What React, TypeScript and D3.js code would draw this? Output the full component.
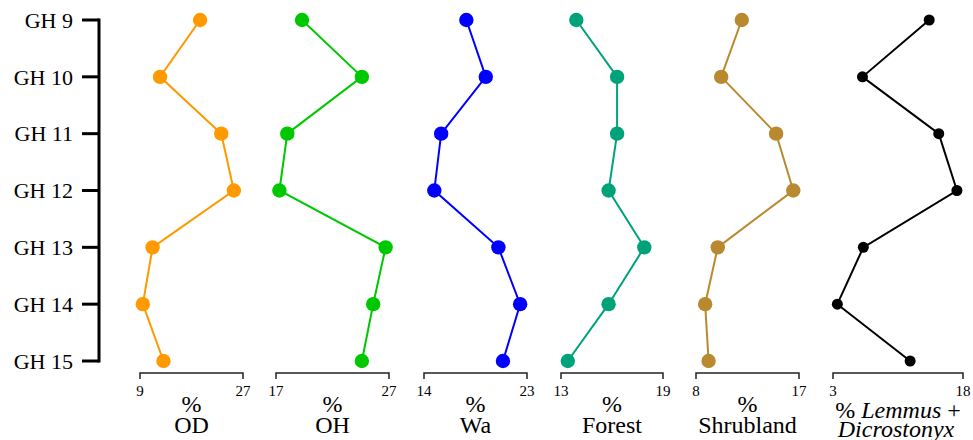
import React from "react";
import * as d3 from "d3";

const samples = ["GH 9", "GH 10", "GH 11", "GH 12", "GH 13", "GH 14", "GH 15"];

const odValues = [19.5, 12.5, 23.2, 25.4, 11.2, 9.5, 13.1];
const ohValues = [19.3, 24.6, 18.0, 17.3, 26.7, 25.6, 24.6];
const waValues = [17.7, 19.4, 15.5, 14.9, 20.5, 22.4, 20.9];
const forestValues = [13.9, 16.3, 16.3, 15.8, 17.9, 15.8, 13.4];
const shrublandValues = [12.0, 10.2, 15.0, 16.5, 9.9, 8.8, 9.1];
const lemmusValues = [14.1, 6.4, 15.2, 17.3, 6.5, 3.5, 11.9];

const panelNames = ["OD", "OH", "Wa", "Forest", "Shrubland", "Lemmus"];
const panelDomains: [number, number][] = [
  [9, 27],
  [17, 27],
  [14, 23],
  [13, 19],
  [8, 17],
  [3, 18],
];
const panelValues = [odValues, ohValues, waValues, forestValues, shrublandValues, lemmusValues];

// layout (pixel ranges of each panel axis) and styles
const panelRanges: [number, number][] = [
  [140, 243],
  [276, 389],
  [424, 527],
  [561, 663],
  [696, 799],
  [833, 963],
];
const panelColors = ["#FF9900", "#00C800", "#0000FF", "#00A27A", "#B8892F", "#000000"];
const panelRadius = [7.2, 7.2, 7.2, 7.2, 7.2, 5.5];

const FONT = '"Liberation Serif", "Times New Roman", Tinos, "DejaVu Serif", serif';

export default function App() {
  const width = 973;
  const height = 440;
  const y = d3.scalePoint<string>().domain(samples).range([20, 361]);
  const axisY = 373;

  return (
    <svg
      width={width}
      height={height}
      style={{ position: "absolute", left: 0, top: 0, background: "#fff", fontFamily: FONT }}
    >
      {/* left axis */}
      <line x1={99} x2={99} y1={y(samples[0])! - 1.5} y2={y(samples[samples.length - 1])! + 1.5} stroke="#000" strokeWidth={3} />
      {samples.map((s) => (
        <g key={s}>
          <line x1={82} x2={99} y1={y(s)!} y2={y(s)!} stroke="#000" strokeWidth={3} />
          <text x={73} y={y(s)!} dy="0.35em" textAnchor="end" fontSize={22} fill="#000">
            {s}
          </text>
        </g>
      ))}

      {panelNames.map((name, i) => {
        const [r0, r1] = panelRanges[i];
        const x = d3.scaleLinear().domain(panelDomains[i]).range([r0, r1]);
        const vals = panelValues[i];
        const line = d3
          .line<number>()
          .x((v) => x(v))
          .y((_, j) => y(samples[j])!);
        const cx = (r0 + r1) / 2;
        const ticks = panelDomains[i];
        return (
          <g key={name}>
            <path d={line(vals)!} fill="none" stroke={panelColors[i]} strokeWidth={2} />
            {vals.map((v, j) => (
              <circle key={j} cx={x(v)} cy={y(samples[j])!} r={panelRadius[i]} fill={panelColors[i]} />
            ))}
            <path
              d={`M${x(ticks[0])},${axisY + 6}V${axisY}H${x(ticks[1])}V${axisY + 6}`}
              fill="none"
              stroke="#222"
              strokeWidth={1.5}
            />
            {ticks.map((t) => (
              <text key={t} x={x(t)} y={396} textAnchor="middle" fontSize={15} fill="#000">
                {t}
              </text>
            ))}
            {name === "Lemmus" ? (
              <>
                <text x={cx} y={418} textAnchor="middle" fontSize={24} fill="#000">
                  {"% "}
                  <tspan fontStyle="italic">Lemmus</tspan>
                  {" +"}
                </text>
                <text x={cx - 2} y={437} textAnchor="middle" fontSize={24} fontStyle="italic" fill="#000">
                  Dicrostonyx
                </text>
              </>
            ) : (
              <>
                <text x={cx} y={412} textAnchor="middle" fontSize={24} fill="#000">
                  %
                </text>
                <text x={cx} y={433} textAnchor="middle" fontSize={24} fill="#000">
                  {name}
                </text>
              </>
            )}
          </g>
        );
      })}
    </svg>
  );
}
